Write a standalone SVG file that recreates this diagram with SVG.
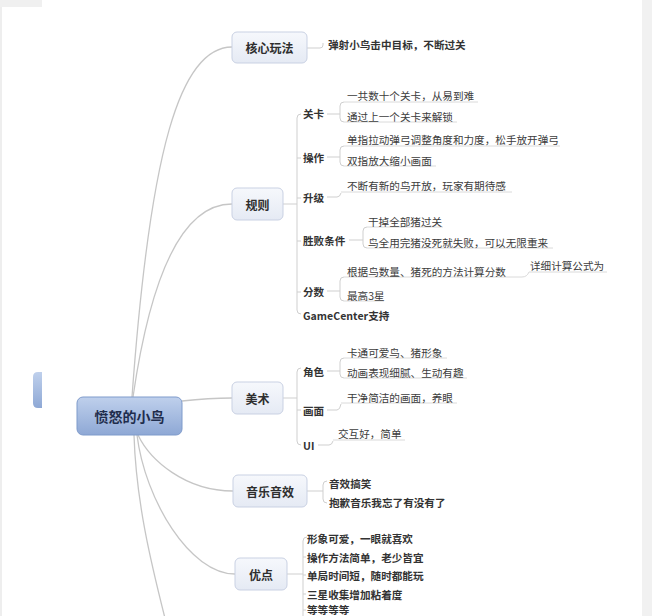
<svg xmlns="http://www.w3.org/2000/svg" width="652" height="616" viewBox="0 0 652 616">
<defs>
<linearGradient id="gRoot" x1="0" y1="0" x2="0" y2="1">
<stop offset="0" stop-color="#bfd0ec"/>
<stop offset="1" stop-color="#8ea8d5"/>
</linearGradient>
<linearGradient id="gBr" x1="0" y1="0" x2="0" y2="1">
<stop offset="0" stop-color="#f6f8fc"/>
<stop offset="1" stop-color="#e5eaf4"/>
</linearGradient>
<style>
text{font-family:"Noto Sans CJK SC","Noto Sans",sans-serif;dominant-baseline:central;fill:#333}
.root{font-size:14px;font-weight:bold;fill:#1f2d4d}
.br{font-size:12px;font-weight:bold;fill:#2e2e2e}
.sub{font-size:10.6px;font-weight:bold;fill:#333}
.leaf{font-size:10.6px;fill:#3c3c3c}
.conn{fill:none;stroke:#c6c6c6;stroke-width:1.3}
.brk{fill:none;stroke:#cfcfcf;stroke-width:1}
.ul{fill:none;stroke:#dadada;stroke-width:1}
.bnode{fill:url(#gBr);stroke:#c9d1e3;stroke-width:1}
</style>
</defs>
<rect x="0" y="0" width="652" height="616" fill="#ffffff"/>
<rect x="0" y="0" width="2" height="616" fill="#eeeeee"/>
<rect x="0" y="0" width="42" height="7" fill="#f0f0f0"/>
<rect x="642" y="0" width="10" height="616" fill="#f1f1f1"/>
<path d="M42,372 L38,372 Q33,372 33,377 L33,403 Q33,408 38,408 L42,408 Z" fill="url(#gRoot)"/>

<g id="connectors">
<path class="conn" d="M132,397 C150,150 180,47 232,47"/>
<path class="conn" d="M133,397 C150,280 180,204 232,204"/>
<path class="conn" d="M182,401 C200,399 215,398 232,398"/>
<path class="conn" d="M138,435 C150,460 185,491 233,491"/>
<path class="conn" d="M137,435 C145,500 190,574 235,574"/>
<path class="conn" d="M134,435 C136,500 150,560 168,630"/>
<path class="brk" d="M307,48 L320,48 Q323,48 323,45 L323,43"/>
<path class="brk" d="M283,204 L297,204"/>
<path class="brk" d="M301,114 Q297,114 297,118 L297,310 Q297,314 301,314"/>
<path class="brk" d="M297,158 L301,158 M297,198 L301,198 M297,241 L301,241 M297,292 L301,292"/>
<path class="brk" d="M327,114 L340,114 M344,102 Q340,102 340,106 L340,118 Q340,122 344,122"/>
<path class="ul" d="M344,102 L478,102 M344,122 L457,122"/>
<path class="brk" d="M327,157 L340,157 M344,146 Q340,146 340,150 L340,162 Q340,166 344,166"/>
<path class="ul" d="M344,146 L560,146 M344,166 L436,166"/>
<path class="brk" d="M327,197 L337,197 Q340,197 341,193"/>
<path class="ul" d="M341,192 L512,192"/>
<path class="brk" d="M349,240 L363,240 M367,227 Q363,227 363,231 L363,244 Q363,248 367,248"/>
<path class="ul" d="M367,227 L443,227 M367,248 L553,248"/>
<path class="brk" d="M327,291 L340,291 M344,277 Q340,277 340,281 L340,297 Q340,301 344,301"/>
<path class="ul" d="M344,277 L522,277 Q527,277 529,272 L607,272 M344,301 L384,301"/>
<path class="brk" d="M283,398 L297,398"/>
<path class="brk" d="M301,368 Q297,368 297,372 L297,441 Q297,445 301,445 M297,410 L301,410"/>
<path class="brk" d="M327,371 L340,371 M344,358 Q340,358 340,362 L340,374 Q340,378 344,378"/>
<path class="ul" d="M344,358 L447,358 M344,378 L467,378"/>
<path class="brk" d="M327,410 L337,410 Q340,410 341,404"/>
<path class="ul" d="M341,403 L457,403"/>
<path class="brk" d="M318,445 L329,445 Q332,445 333,441"/>
<path class="ul" d="M333,440 L405,440"/>
<path class="brk" d="M307,491 L323,491"/>
<path class="brk" d="M327,481 Q323,481 323,485 L323,499 Q323,503 327,503"/>
<path class="brk" d="M287,574 L303,574"/>
<path class="brk" d="M307,537 Q303,537 303,541 L303,620 M303,557 L306,557 M303,575 L306,575 M303,594 L306,594 M303,610 L306,610"/>
</g>

<g id="root">
<rect x="77" y="397" width="105" height="38" rx="6" fill="url(#gRoot)" stroke="#7f9bcb" stroke-width="1"/>
<text class="root" x="129.5" y="416" text-anchor="middle">愤怒的小鸟</text>
</g>

<g id="core">
<rect class="bnode" x="232" y="32" width="75" height="31" rx="5"/>
<text class="br" x="269.5" y="47.5" text-anchor="middle">核心玩法</text>
<text class="sub" x="328" y="44">弹射小鸟击中目标，不断过关</text>
</g>

<g id="rules">
<rect class="bnode" x="232" y="188" width="51" height="32" rx="5"/>
<text class="br" x="257.5" y="204" text-anchor="middle">规则</text>
<text class="sub" x="303" y="113">关卡</text>
<text class="leaf" x="347" y="95">一共数十个关卡，从易到难</text>
<text class="leaf" x="347" y="116">通过上一个关卡来解锁</text>
<text class="sub" x="303" y="157">操作</text>
<text class="leaf" x="347" y="139">单指拉动弹弓调整角度和力度，松手放开弹弓</text>
<text class="leaf" x="347" y="160">双指放大缩小画面</text>
<text class="sub" x="303" y="197">升级</text>
<text class="leaf" x="347" y="185">不断有新的鸟开放，玩家有期待感</text>
<text class="sub" x="303" y="240">胜败条件</text>
<text class="leaf" x="368" y="221">干掉全部猪过关</text>
<text class="leaf" x="368" y="242">鸟全用完猪没死就失败，可以无限重来</text>
<text class="sub" x="303" y="291">分数</text>
<text class="leaf" x="347" y="271">根据鸟数量、猪死的方法计算分数</text>
<text class="leaf" x="530" y="265.5">详细计算公式为</text>
<text class="leaf" x="347" y="295.5">最高3星</text>
<text class="sub" x="303" y="315">GameCenter支持</text>
</g>

<g id="art">
<rect class="bnode" x="232" y="382" width="51" height="32" rx="5"/>
<text class="br" x="257.5" y="398" text-anchor="middle">美术</text>
<text class="sub" x="303" y="371">角色</text>
<text class="leaf" x="347" y="352">卡通可爱鸟、猪形象</text>
<text class="leaf" x="347" y="372">动画表现细腻、生动有趣</text>
<text class="sub" x="303" y="410">画面</text>
<text class="leaf" x="347" y="397">干净简洁的画面，养眼</text>
<text class="sub" x="303" y="445">UI</text>
<text class="leaf" x="338" y="433">交互好，简单</text>
</g>

<g id="music">
<rect class="bnode" x="233" y="475" width="74" height="32" rx="5"/>
<text class="br" x="270" y="491" text-anchor="middle">音乐音效</text>
<text class="sub" x="329" y="483">音效搞笑</text>
<text class="sub" x="329" y="502">抱歉音乐我忘了有没有了</text>
</g>

<g id="pros">
<rect class="bnode" x="235" y="558" width="52" height="32" rx="5"/>
<text class="br" x="261" y="574" text-anchor="middle">优点</text>
<text class="sub" x="307" y="538">形象可爱，一眼就喜欢</text>
<text class="sub" x="307" y="557">操作方法简单，老少皆宜</text>
<text class="sub" x="307" y="575">单局时间短，随时都能玩</text>
<text class="sub" x="307" y="594">三星收集增加粘着度</text>
<text class="sub" x="307" y="609.5">等等等等</text>
</g>
</svg>
